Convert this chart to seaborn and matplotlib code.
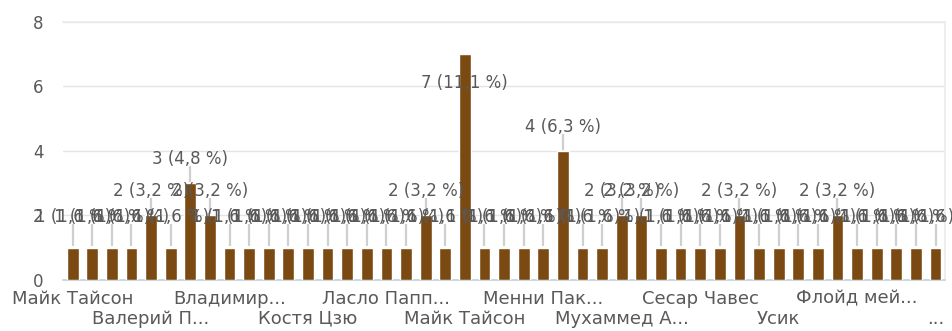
import matplotlib
matplotlib.use("Agg")
import matplotlib.pyplot as plt
import seaborn as sns
import pandas as pd

# Number of votes for each answer, in chart order
votes = [1, 1, 1, 1, 2, 1, 3, 2, 1, 1,
         1, 1, 1, 1, 1, 1, 1, 1, 2, 1,
         7, 1, 1, 1, 1, 4, 1, 1, 2, 2,
         1, 1, 1, 1, 2, 1, 1, 1, 1, 2,
         1, 1, 1, 1, 1]

# Category labels shown on the x axis (every fourth answer)
tick_labels = ["Майк Тайсон", "Валерий П...", "Владимир...", "Костя Цзю",
               "Ласло Папп...", "Майк Тайсон", "Менни Пак...", "Мухаммед А...",
               "Сесар Чавес", "Усик", "Флойд мей...", "..."]
label_step = 4

y_ticks = [0, 2, 4, 6, 8]

BAR = "#7B4A12"
TEXT = "#595959"
GRID = "#e4e4e4"

sns.set_theme(style="white")
plt.rcParams["font.family"] = ["DejaVu Sans"]

total = sum(votes)
df = pd.DataFrame({"pos": list(range(len(votes))), "votes": votes})

fig = plt.figure(figsize=(9.52, 3.31), dpi=100)
ax = fig.add_axes([0.066, 0.154, 0.927, 0.78])

sns.barplot(data=df, x="pos", y="votes", color=BAR, saturation=1,
            width=0.6, ax=ax, zorder=3)

ax.set_ylim(0, 8)
ax.set_xlim(-0.5, len(votes) - 0.5)
ax.set_yticks(y_ticks)
ax.set_yticklabels([str(t) for t in y_ticks])
ax.yaxis.grid(True, color=GRID, linewidth=1.0, zorder=0)
ax.set_axisbelow(True)

# Data labels with leader lines
vmax = max(votes)
for i, v in enumerate(votes):
    if v == vmax:
        ly = v - 0.9
    elif v == 1:
        ly = v + 0.95
    else:
        ly = v + 0.75
    if ly > v:
        ax.plot([i, i], [v + 0.04, ly - 0.22], color="#cfcfcf",
                linewidth=1.6, zorder=2, solid_capstyle="butt")
    pct = f"{v / total * 100:.1f}".replace(".", ",")
    ax.text(i, ly, f"{v} ({pct} %)", ha="center", va="center",
            fontsize=12, color=TEXT, zorder=5)

# Staggered category labels
ticks = list(range(0, len(votes), label_step))
ax.set_xticks(ticks)
ax.set_xticklabels([lbl if k % 2 == 0 else "\n" + lbl
                    for k, lbl in enumerate(tick_labels)],
                   linespacing=1.15)
ax.tick_params(axis="x", length=0, pad=7, labelsize=13, labelcolor=TEXT)
ax.tick_params(axis="y", length=0, pad=14, labelsize=12, labelcolor=TEXT)
ax.set_xlabel("")
ax.set_ylabel("")

ax.spines["left"].set_visible(False)
ax.spines["top"].set_color("#ececec")
ax.spines["right"].set_color("#ececec")
ax.spines["bottom"].set_color("#c5cfdc")
ax.spines["bottom"].set_linewidth(1.2)

fig.savefig("out.png", dpi=100, facecolor="white")
